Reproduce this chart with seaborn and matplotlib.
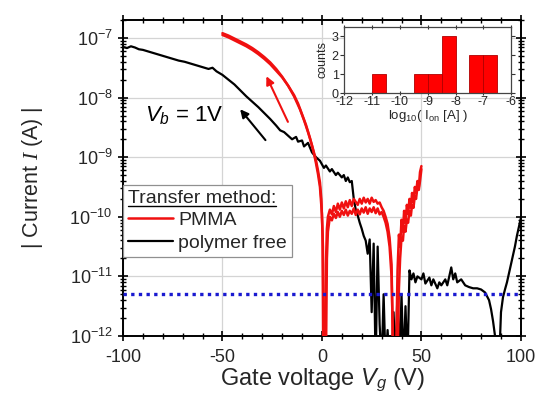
import numpy as np
import pandas as pd
import seaborn as sns
import matplotlib
matplotlib.use("Agg")
import matplotlib.pyplot as plt
from matplotlib.ticker import LogLocator, LogFormatterSciNotation, MultipleLocator, NullFormatter
from matplotlib.lines import Line2D

# ---- transfer curves: gate voltage (V) and log10 of |I| (A) ----
polyfree_vg = [-100, -98, -96, -94, -92, -90, -87, -84, -81, -78, -75, -72, -69, -66, -63, -60,
               -57, -55, -53, -50, -47, -44, -41, -38, -35, -32, -29, -26, -23, -21, -19, -17,
               -15, -13, -12, -10, -9, -7, -5, -3, -1, 1, 2, 4, 5, 7, 8, 10, 11, 12, 13, 14, 15,
               16, 17, 18, 19, 20, 21, 22, 23, 24, 25, 26, 27, 28, 29, 30, 31, 32, 33, 34, 35,
               36, 37, 38, 39, 40, 41, 42, 43, 44, 45, 46, 47, 48, 50, 51, 52, 54, 55, 56, 58,
               59, 60, 62, 63, 64, 65, 66, 67, 68, 70, 72, 74, 76, 78, 80, 82, 84, 85, 86, 87,
               88, 89, 90, 91, 92, 93, 94, 95, 96, 97, 98, 99, 100]
polyfree_logI = [-7.15, -7.17, -7.14, -7.16, -7.19, -7.20, -7.23, -7.26, -7.29, -7.32, -7.35,
                 -7.38, -7.40, -7.43, -7.46, -7.49, -7.52, -7.50, -7.56, -7.62, -7.70, -7.78,
                 -7.88, -7.98, -8.07, -8.16, -8.26, -8.36, -8.47, -8.55, -8.58, -8.64, -8.70,
                 -8.66, -8.74, -8.72, -8.82, -8.76, -8.92, -9.00, -9.06, -9.18, -9.14, -9.24,
                 -9.20, -9.30, -9.26, -9.34, -9.30, -9.40, -9.34, -9.42, -9.40, -9.70, -9.88,
                 -9.98, -10.10, -10.20, -10.32, -10.40, -10.62, -10.38, -11.6, -10.45, -12.5,
                 -10.5, -11.8, -12.5, -11.3, -12.5, -11.9, -12.5, -12.5, -11.6, -12.5, -11.2,
                 -12.5, -11.3, -12.5, -11.5, -12.5, -10.9, -11.05, -10.95, -11.1, -11.0, -11.05,
                 -10.95, -11.12, -11.02, -11.15, -11.05, -11.2, -11.1, -11.15, -11.05, -11.15,
                 -11.0, -10.85, -11.05, -10.95, -11.1, -11.05, -11.15, -11.18, -11.2, -11.2,
                 -11.22, -11.27, -11.4, -11.55, -11.75, -12.0, -12.5, -12.5, -11.6, -11.35,
                 -11.22, -11.1, -10.95, -10.8, -10.65, -10.5, -10.32, -10.17, -10.02]

# PMMA: forward sweep (-50 -> 50 V)
pmma_fwd_vg = [-50, -47, -44, -41, -38, -35, -32, -29, -26, -23, -20, -17, -14, -11, -9, -7, -5,
               -3, -2, -1, -0.3, 0.3, 0.7, 1.5, 2, 2.5, 3, 4, 5, 6, 7, 8, 9, 10, 11, 12, 13, 14,
               15, 16, 18, 19, 20, 21, 22, 23, 24, 25, 26, 27, 28, 29, 30, 31, 32, 33, 34, 35,
               35.8, 37.2, 38, 38.7, 39.3, 40, 40.7, 41.3, 42, 42.7, 43.3, 44, 44.7, 45.3, 46,
               46.7, 47.3, 48, 48.7, 49.3, 50]
pmma_fwd_logI = [-6.92, -6.96, -7.01, -7.06, -7.11, -7.17, -7.24, -7.32, -7.41, -7.52, -7.65,
                 -7.80, -7.98, -8.20, -8.38, -8.58, -8.80, -9.05, -9.22, -9.42, -9.7, -10.3,
                 -12.5, -12.5, -10.8, -10.2, -10.0, -9.88, -9.96, -9.82, -9.92, -9.78, -9.88,
                 -9.76, -9.86, -9.74, -9.84, -9.72, -9.82, -9.70, -9.80, -9.70, -9.78, -9.68,
                 -9.76, -9.70, -9.78, -9.68, -9.75, -9.72, -9.78, -9.76, -9.84, -9.90, -10.0,
                 -10.12, -10.35, -10.8, -12.5, -12.5, -10.9, -10.3, -10.5, -10.05, -10.25,
                 -9.9, -10.1, -9.8, -9.95, -9.7, -9.85, -9.6, -9.75, -9.5, -9.6, -9.4, -9.5,
                 -9.25, -9.15]

# PMMA: backward sweep (50 -> -50 V)
pmma_bwd_vg = [50, 49.3, 48.7, 48, 47.3, 46.7, 46, 45.3, 44.7, 44, 43.3, 42.7, 42, 41.3, 40.7,
               40, 39.3, 38.7, 38, 36, 35, 34, 33, 32, 31, 30, 29, 28, 27, 26, 25, 24, 23, 22,
               21, 20, 19, 18, 17, 16, 15, 14, 13, 12, 11, 10, 9, 8, 7, 6, 5, 4, 3, 2.5, 2, 1,
               0.5, 0, -1, -2, -3, -4, -6, -8, -10, -12, -14, -17, -20, -23, -26, -29, -32, -35,
               -38, -41, -44, -47, -50]
pmma_bwd_logI = [-9.2, -9.4, -9.55, -9.5, -9.7, -9.65, -9.85, -9.8, -9.98, -9.9, -10.1, -10.05,
                 -10.25, -10.15, -10.4, -10.35, -10.7, -11.2, -12.5, -12.5, -11.0, -10.5, -10.25,
                 -10.1, -10.0, -9.92, -9.96, -9.86, -9.94, -9.84, -9.92, -9.86, -9.95, -9.84,
                 -9.93, -9.86, -9.96, -9.88, -9.97, -9.86, -9.95, -9.90, -9.98, -9.88, -9.97,
                 -9.90, -10.0, -9.92, -10.02, -9.95, -10.06, -10.0, -10.25, -10.7, -12.5, -12.5,
                 -10.5, -9.95, -9.5, -9.28, -9.1, -8.94, -8.68, -8.46, -8.28, -8.1, -7.96,
                 -7.8, -7.66, -7.55, -7.44, -7.35, -7.27, -7.2, -7.14, -7.09, -7.04, -6.99,
                 -6.95]

noise_floor = 5e-12  # measurement floor (A)

# ---- on-current histogram (inset) ----
ion_bin_edges = [-11.0, -10.5, -10.0, -9.5, -9.0, -8.5, -8.0, -7.5, -7.0, -6.5]
ion_counts = [1, 0, 0, 1, 1, 3, 0, 2, 2]

sns.set_theme(style="ticks")
plt.rcParams["font.family"] = ["Liberation Sans", "DejaVu Sans"]
plt.rcParams["mathtext.fontset"] = "custom"
plt.rcParams["mathtext.rm"] = "Liberation Sans"
plt.rcParams["mathtext.it"] = "Liberation Sans:italic"
plt.rcParams["mathtext.cal"] = "Liberation Serif:italic"
plt.rcParams["axes.unicode_minus"] = False

fig = plt.figure(figsize=(5.37, 4.0), dpi=100)
ax = fig.add_axes([0.229, 0.16, 0.741, 0.79])

RED = "#f01010"

def curve(vg, logi):
    return pd.DataFrame({"Vg": vg, "I": 10.0 ** np.asarray(logi)})

sns.lineplot(data=curve(polyfree_vg, polyfree_logI), x="Vg", y="I", sort=False,
             estimator=None, color="black", lw=1.6, ax=ax, label="polymer free", zorder=3)
sns.lineplot(data=curve(pmma_fwd_vg, pmma_fwd_logI), x="Vg", y="I", sort=False,
             estimator=None, color=RED, lw=1.8, ax=ax, label="PMMA", zorder=4)
sns.lineplot(data=curve(pmma_bwd_vg, pmma_bwd_logI), x="Vg", y="I", sort=False,
             estimator=None, color=RED, lw=1.8, ax=ax, zorder=4)

ax.axhline(noise_floor, color="#1a1ad0", lw=2.4, ls=(0, (1, 1.3)), zorder=5)

ax.set_yscale("log")
ax.set_xlim(-100, 100)
ax.set_ylim(1e-12, 2e-7)
ax.xaxis.set_major_locator(MultipleLocator(50))
ax.xaxis.set_minor_locator(MultipleLocator(10))
ax.yaxis.set_major_locator(LogLocator(base=10, numticks=20))
ax.yaxis.set_major_formatter(LogFormatterSciNotation())
ax.yaxis.set_minor_locator(LogLocator(base=10, subs=np.arange(2, 10), numticks=20))
ax.yaxis.set_minor_formatter(NullFormatter())
ax.grid(True, which="major", color="#d4d4d4", lw=0.9)
ax.tick_params(which="both", direction="inout", top=True, right=True, color="black",
               labelsize=13)
ax.tick_params(axis="x", pad=6)
ax.tick_params(axis="y", pad=4)
ax.tick_params(which="major", length=7, width=1.2)
ax.tick_params(which="minor", length=4, width=1.0)
for s in ax.spines.values():
    s.set_color("black")
    s.set_linewidth(1.4)

ax.set_xlabel(r"Gate voltage $V_g$ (V)", fontsize=17, labelpad=0)
ax.set_ylabel(r"| Current $\mathcal{I}$ (A) |", fontsize=15.5)
ax.yaxis.set_label_coords(-0.196, 0.5)

# sweep direction arrows
ax.annotate("", xy=(-42, 10 ** -8.16), xytext=(-27.5, 10 ** -8.75),
            arrowprops=dict(arrowstyle="-|>", color="black", lw=1.5, mutation_scale=12))
ax.annotate("", xy=(-28.5, 10 ** -7.6), xytext=(-16.5, 10 ** -8.45),
            arrowprops=dict(arrowstyle="-|>", color=RED, lw=1.5, mutation_scale=12))
ax.text(-89, 10 ** -8.3, r"$V_b$ = 1V", fontsize=16, color="black", va="center", ha="left")

# legend with underlined title
handles, labels = ax.get_legend_handles_labels()
order = [labels.index("PMMA"), labels.index("polymer free")]
leg = ax.legend([handles[i] for i in order], [labels[i] for i in order],
                title="Transfer method:", loc="upper left", bbox_to_anchor=(0.0, 0.478),
                borderaxespad=0.0, fontsize=14, title_fontsize=14, frameon=True,
                fancybox=False, edgecolor="#909090", framealpha=1.0, handlelength=2.3,
                handletextpad=0.3, borderpad=0.25, labelspacing=0.25, alignment="left")
leg.get_frame().set_linewidth(0.9)
leg.set_zorder(6)

# inset histogram
ins = fig.add_axes([0.641, 0.7675, 0.311, 0.165])
centers = [(a + b) / 2 for a, b in zip(ion_bin_edges[:-1], ion_bin_edges[1:])]
sns.histplot(x=centers, weights=ion_counts, bins=ion_bin_edges, ax=ins, color="#ff0000",
             alpha=1.0, edgecolor="#b00000", linewidth=0.6)
ins.set_xlim(-12, -6)
ins.set_ylim(0, 3.5)
ins.xaxis.set_major_locator(MultipleLocator(1))
ins.yaxis.set_major_locator(MultipleLocator(1))
ins.tick_params(which="both", direction="out", top=True, right=True, labelsize=9, pad=1,
                length=3, width=0.8, color="#333333")
ins.tick_params(axis="x", which="both", top=True, direction="inout")
ins.set_ylabel("counts", fontsize=9, labelpad=2)
ins.set_xlabel(r"log$_{10}$( I$_{\mathrm{on}}$ [A] )", fontsize=9.5, labelpad=0)
for s in ins.spines.values():
    s.set_color("#444444")
    s.set_linewidth(0.9)

# underline the legend title
fig.canvas.draw()
bb = leg.get_title().get_window_extent()
inv = fig.transFigure.inverted()
(x0, y0), (x1, _) = inv.transform([(bb.x0, bb.y0 + 1), (bb.x1, bb.y0 + 1)])
fig.add_artist(Line2D([x0, x1], [y0, y0], color="black", lw=1.0, zorder=10))

fig.savefig("out.png", dpi=100)
